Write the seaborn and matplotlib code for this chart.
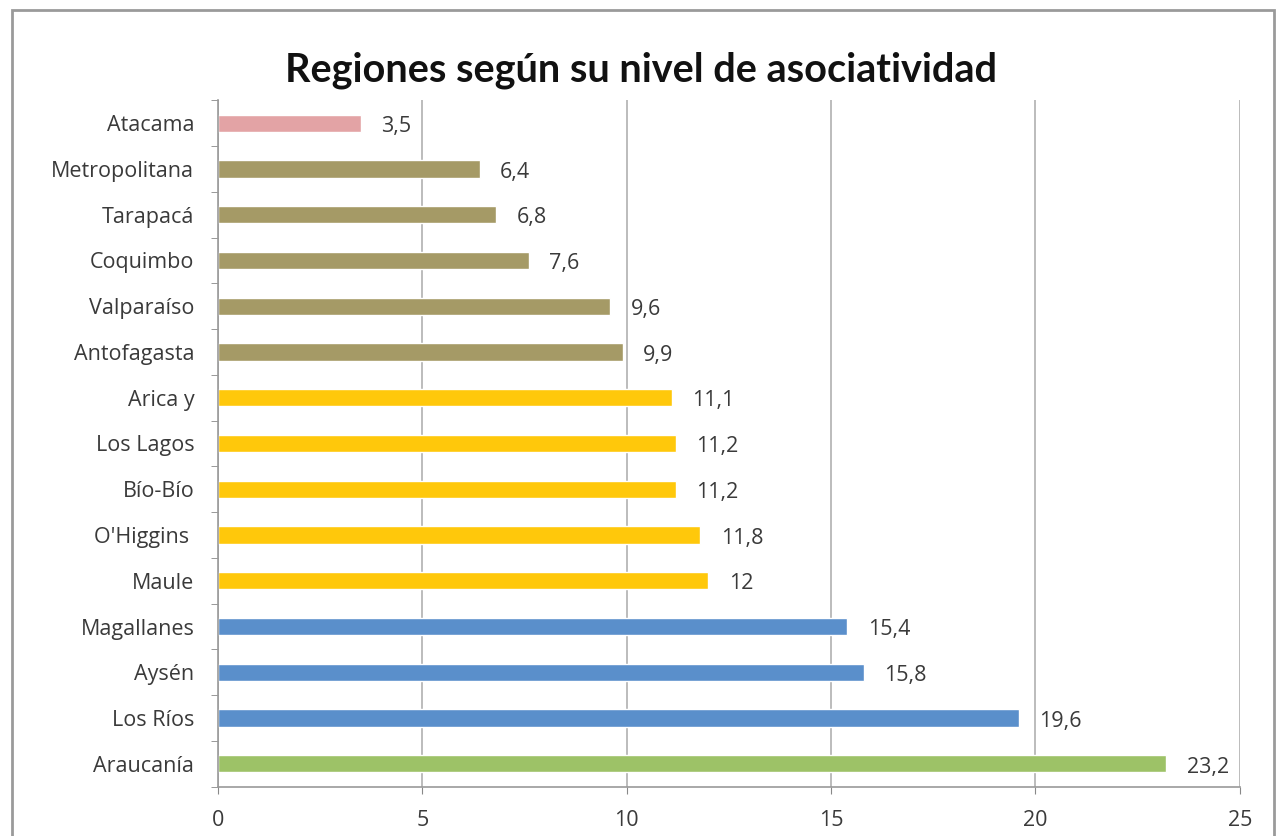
import pandas as pd
import matplotlib.pyplot as plt
import seaborn as sns
from matplotlib.patches import Rectangle
from matplotlib.ticker import FixedLocator

# data, top to bottom as in the chart
regiones = ["Atacama", "Metropolitana", "Tarapacá", "Coquimbo", "Valparaíso",
            "Antofagasta", "Arica y", "Los Lagos", "Bío-Bío", "O'Higgins ",
            "Maule", "Magallanes", "Aysén", "Los Ríos", "Araucanía"]
valores = [3.5, 6.4, 6.8, 7.6, 9.6, 9.9, 11.1, 11.2, 11.2, 11.8, 12, 15.4, 15.8, 19.6, 23.2]
grupos = ["bajo"] + ["medio-bajo"] * 5 + ["medio"] * 5 + ["alto"] * 3 + ["muy alto"]
colores = {"bajo": "#E3A3A5", "medio-bajo": "#A59A66", "medio": "#FFC80B",
           "alto": "#5A8FCB", "muy alto": "#9DC267"}

df = pd.DataFrame({"Region": regiones, "Valor": valores, "Grupo": grupos})

sns.set_style("white")
plt.rcParams["font.family"] = ["Open Sans", "DejaVu Sans"]

fig = plt.figure(figsize=(12.82, 8.36), dpi=100)
ax = fig.add_axes([0.170, 0.059, 0.797, 0.821])

sns.barplot(data=df, y="Region", x="Valor", hue="Grupo", palette=colores,
            dodge=False, width=0.38, saturation=1, legend=False, ax=ax, orient="h")

# value labels with decimal comma
for i, v in enumerate(valores):
    txt = f"{v:g}".replace(".", ",")
    ax.text(v + 0.5, i + 0.07, txt, ha="left", va="center", fontsize=15.5, color="#3a3a3a")

ax.set_xlim(0, 25)
ax.set_ylim(len(regiones) - 0.5, -0.5)
ax.set_xticks([0, 5, 10, 15, 20, 25])
ax.xaxis.grid(True, color="#b0b0b0", linewidth=1.2)
ax.set_axisbelow(True)

# tick marks between categories on the y axis
ax.yaxis.set_minor_locator(FixedLocator([i - 0.5 for i in range(len(regiones) + 1)]))
ax.tick_params(axis="y", which="major", length=0, pad=17, labelsize=15.5, labelcolor="#3a3a3a")
ax.tick_params(axis="y", which="minor", length=5, color="#888888", left=True)
ax.tick_params(axis="x", length=5, color="#888888", bottom=True, labelsize=15.5,
               labelcolor="#3a3a3a", pad=12)

for s in ["top", "right"]:
    ax.spines[s].set_visible(False)
for s in ["left", "bottom"]:
    ax.spines[s].set_color("#999999")
    ax.spines[s].set_linewidth(1.2)

ax.set_xlabel("")
ax.set_ylabel("")

fig.text(0.5, 0.916, "Regiones según su nivel de asociatividad", ha="center", va="center",
         fontsize=28.5, fontweight="bold", color="#111111", family=["Lato", "DejaVu Sans"])

# outer frame of the chart area
fig.patches.append(Rectangle((0.009, -0.02), 0.985, 1.008, transform=fig.transFigure,
                             fill=False, edgecolor="#9a9a9a", linewidth=2))

fig.savefig("out.png", dpi=100)
